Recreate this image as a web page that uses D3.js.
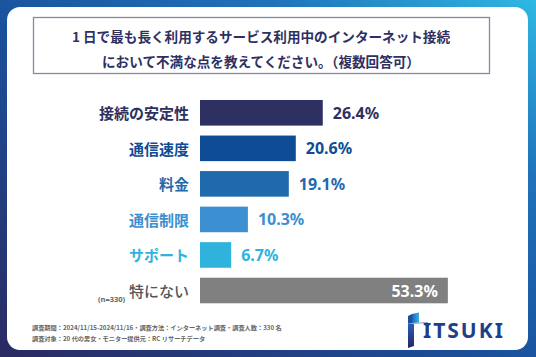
<!DOCTYPE html>
<html><head><meta charset="utf-8">
<script src="https://cdn.jsdelivr.net/npm/d3@7"></script>
<style>
html,body{margin:0;padding:0;background:#fff;}
svg{display:block;font-family:"Noto Sans CJK JP","Noto Sans",sans-serif;}
</style></head>
<body>
<svg id="c" width="536" height="357"></svg>
<script>
const titleLines = ["1 日で最も長く利用するサービス利用中のインターネット接続", "において不満な点を教えてください。（複数回答可）"];
const categories = ["接続の安定性", "通信速度", "料金", "通信制限", "サポート", "特にない"];
const values = [26.4, 20.6, 19.1, 10.3, 6.7, 53.3];
const sampleNote = "(n=330)";
const footerLines = ["調査期間：2024/11/15-2024/11/16・調査方法：インターネット調査・調査人数：330 名", "調査対象：20 代の男女・モニター提供元：RC リサーチデータ"];
const brand = "ITSUKI";

const barColors = ["#2e3062", "#0e4c95", "#1f69ad", "#3c8fd0", "#2fb2dc", "#808080"];
const labelColors = ["#2e3062", "#0e4c95", "#1f69ad", "#3c8fd0", "#2fb2dc", "#555555"];

const svg = d3.select("#c");
const W = 536, H = 357;

const defs = svg.append("defs");
const bg = defs.append("linearGradient").attr("id","bg").attr("x1",0).attr("y1",1).attr("x2",1).attr("y2",0);
bg.append("stop").attr("offset",0).attr("stop-color","#2b2a62");
bg.append("stop").attr("offset",0.45).attr("stop-color","#1a4f9a");
bg.append("stop").attr("offset",0.75).attr("stop-color","#1f72ba");
bg.append("stop").attr("offset",1).attr("stop-color","#2fb8e3");
const lg = defs.append("linearGradient").attr("id","logoBar").attr("x1",0).attr("y1",0).attr("x2",0).attr("y2",1);
lg.append("stop").attr("offset",0).attr("stop-color","#2a5db0");
lg.append("stop").attr("offset",1).attr("stop-color","#22266a");
const lf = defs.append("linearGradient").attr("id","logoFlag").attr("x1",0).attr("y1",0).attr("x2",1).attr("y2",0);
lf.append("stop").attr("offset",0).attr("stop-color","#1c62b4");
lf.append("stop").attr("offset",1).attr("stop-color","#36b2e6");

svg.append("rect").attr("width",W).attr("height",H).attr("fill","url(#bg)");
svg.append("rect").attr("x",7).attr("y",7).attr("width",521).attr("height",343).attr("rx",13).attr("fill","#fff");

// title box
svg.append("rect").attr("x",33.5).attr("y",17.5).attr("width",456).attr("height",56)
  .attr("fill","none").attr("stroke","#8688a6").attr("stroke-width",1.3);
svg.selectAll("text.title").data(titleLines).join("text").attr("class","title")
  .attr("x",261).attr("y",(d,i)=>35.5+i*25.5).attr("text-anchor","middle").attr("dominant-baseline","central")
  .attr("font-size",13.6).attr("font-weight","bold").attr("fill","#2e3062").text(d=>d);

// scales
const x = d3.scaleLinear().domain([0,100]).range([200,665]);
const y = d3.scaleBand().domain(categories).range([100,303.3]).paddingInner(0.28).paddingOuter(0);
const colorBar = d3.scaleOrdinal().domain(categories).range(barColors);
const colorLab = d3.scaleOrdinal().domain(categories).range(labelColors);

const data = categories.map((c,i)=>({c, v: values[i], last: i===categories.length-1}));

svg.selectAll("rect.bar").data(data).join("rect").attr("class","bar")
  .attr("x",x(0)).attr("y",d=>y(d.c)).attr("width",d=>x(d.v)-x(0)).attr("height",y.bandwidth())
  .attr("fill",d=>colorBar(d.c));

svg.selectAll("text.cat").data(data).join("text").attr("class","cat")
  .attr("x",189).attr("y",d=>y(d.c)+y.bandwidth()/2).attr("text-anchor","end").attr("dominant-baseline","central")
  .attr("font-size",15).attr("font-weight",d=>d.last?"500":"bold").attr("fill",d=>colorLab(d.c)).text(d=>d.c);

svg.selectAll("text.val").data(data).join("text").attr("class","val")
  .attr("x",d=>d.last ? x(d.v)-10 : x(d.v)+10).attr("y",d=>y(d.c)+y.bandwidth()/2)
  .attr("text-anchor",d=>d.last?"end":"start").attr("dominant-baseline","central")
  .attr("font-family","'Noto Sans',sans-serif")
  .attr("font-size",16).attr("font-weight","bold").attr("fill",d=>d.last?"#fff":colorBar(d.c))
  .text(d=>d.v.toFixed(1)+"%");

svg.append("text").attr("x",98).attr("y",y(categories[5])+y.bandwidth()-4).attr("dominant-baseline","central")
  .attr("font-size",7.5).attr("font-weight","bold").attr("fill","#666").attr("font-family","'Noto Sans',sans-serif").text(sampleNote);

svg.selectAll("text.foot").data(footerLines).join("text").attr("class","foot")
  .attr("x",32).attr("y",(d,i)=>327.3+i*11).attr("dominant-baseline","central")
  .attr("font-size",6.2).attr("font-weight","bold").attr("fill","#666").text(d=>d);

// logo
const g = svg.append("g");
g.append("path").attr("d","M408,316 L412,314 L412,323 L408,324 Z").attr("fill","#1c4fa0");
g.append("path").attr("d","M412,314 L419,312.5 L419,322.5 L412,323 Z").attr("fill","url(#logoFlag)");
g.append("path").attr("d","M408,323.6 L428,322.6").attr("stroke","#6a7fb8").attr("stroke-width",0.8);
g.append("path").attr("d","M408,324 L414,324 L414,346 L408,348 Z").attr("fill","url(#logoBar)");
g.append("path").attr("d","M426,324.5 L428.5,324.5 L428.5,333 L426,333.5 Z").attr("fill","#2a3f8a");
svg.append("text").attr("x",423).attr("y",338.3).attr("font-family","'Noto Sans',sans-serif")
  .attr("font-size",21).attr("font-weight","bold").attr("letter-spacing",2).attr("fill","#1e3f8a").text(brand);
</script>
</body></html>
